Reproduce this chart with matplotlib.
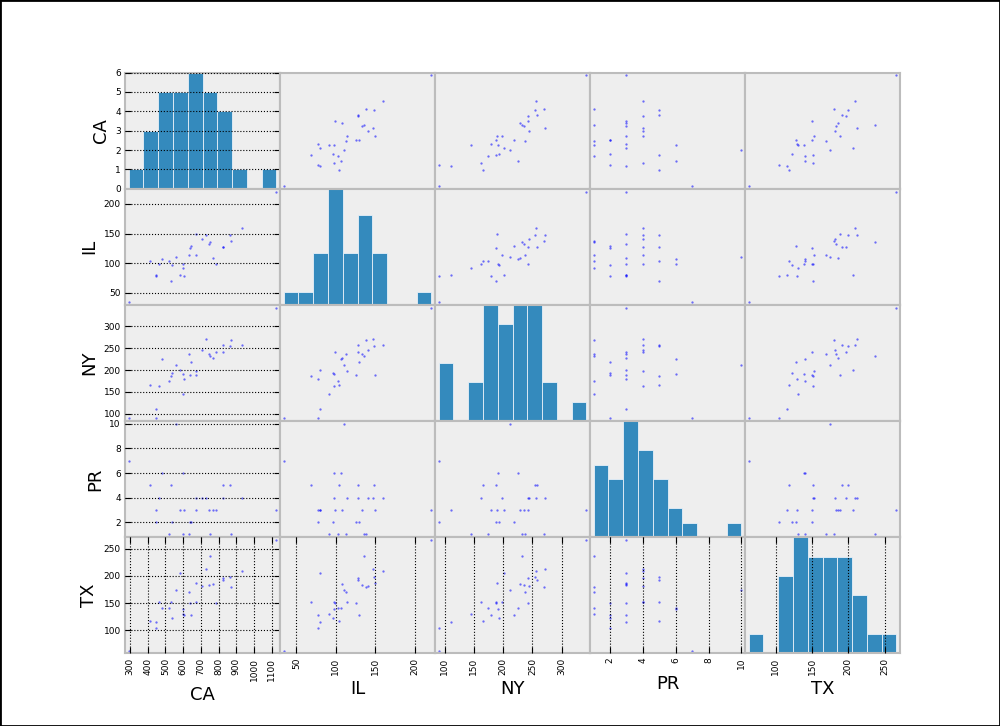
import numpy as np
import matplotlib
matplotlib.use('Agg')
import matplotlib.pyplot as plt
from matplotlib.patches import Rectangle

columns = ['CA', 'IL', 'NY', 'PR', 'TX']
CA = [293, 413, 447, 448, 465, 482, 520, 530, 537, 561, 582, 601, 602, 607, 635, 639,
      643, 671, 673, 706, 727, 744, 750, 766, 784, 823, 827, 866, 872, 931, 1126]
IL = [34, 104, 80, 78, 98, 107, 103, 69, 96, 110, 80, 98, 92, 78, 113, 125,
      129, 114, 150, 141, 147, 133, 136, 108, 99, 128, 128, 148, 138, 160, 221]
NY = [90, 166, 111, 90, 163, 226, 174, 187, 193, 212, 201, 192, 145, 179, 237, 188,
      219, 198, 189, 245, 271, 236, 232, 228, 242, 242, 258, 254, 269, 256, 342]
PR = [7, 5, 3, 2, 4, 6, 1, 5, 2, 10, 3, 6, 1, 3, 1, 2,
      2, 4, 3, 4, 4, 3, 1, 3, 3, 4, 5, 5, 1, 4, 3]
TX = [63, 118, 115, 104, 152, 141, 141, 152, 123, 175, 206, 139, 131, 129, 170, 150,
      128, 153, 188, 182, 212, 183, 237, 186, 150, 197, 192, 199, 180, 209, 266]

tick_values = {
    'CA': [300, 400, 500, 600, 700, 800, 900, 1000, 1100],
    'IL': [50, 100, 150, 200],
    'NY': [100, 150, 200, 250, 300],
    'PR': [2, 4, 6, 8, 10],
    'TX': [100, 150, 200, 250],
}

data = {'CA': np.array(CA, float), 'IL': np.array(IL, float), 'NY': np.array(NY, float),
        'PR': np.array(PR, float), 'TX': np.array(TX, float)}

n = len(columns)
bounds = {}
for c in columns:
    v = data[c]
    ext = (v.max() - v.min()) * 0.05 / 2.0
    bounds[c] = (v.min() - ext, v.max() + ext)

fig = plt.figure(figsize=(10, 7.26), dpi=100)
axes = fig.subplots(n, n)
fig.subplots_adjust(left=0.125, right=0.9, bottom=0.1, top=0.9, wspace=0, hspace=0)

for i, a in enumerate(columns):
    for j, b in enumerate(columns):
        ax = axes[i, j]
        ax.set_facecolor('#EEEEEE')
        for sp in ax.spines.values():
            sp.set_color('#BCBCBC')
            sp.set_linewidth(1.5)
        if i == j:
            counts, edges, _ = ax.hist(data[a], bins=10, color='#348ABD',
                                       edgecolor='#E8F0F8', linewidth=0.6)
            ax.set_xlim(bounds[a])
            ax.set_ylim(0, counts.max())
            ax.set_yticks(np.arange(0, counts.max() + 1))
        else:
            ax.scatter(data[b], data[a], marker='.', c='b', alpha=0.55, s=11,
                       linewidths=0)
            ax.set_xlim(bounds[b])
            ax.set_ylim(bounds[a])
            ax.set_yticks(tick_values[a])
        ax.set_xticks(tick_values[b])
        ax.set_axisbelow(False)
        ax.grid(True, color='k', linestyle=':', linewidth=0.8)
        ax.tick_params(direction='in', length=4, width=0.8, top=True, right=True,
                       labelsize=6.5, pad=3)
        ax.tick_params(axis='x', labelrotation=90)
        if j != 0:
            ax.yaxis.set_visible(False)
        else:
            ax.set_ylabel(a, fontsize=13)
        if i != n - 1:
            ax.xaxis.set_visible(False)
        else:
            ax.set_xlabel(b, fontsize=13)

fig.patches.append(Rectangle((0, 0), 1, 1, transform=fig.transFigure, fill=False,
                             edgecolor='black', linewidth=2))
fig.savefig('out.png', dpi=100, facecolor='white')
